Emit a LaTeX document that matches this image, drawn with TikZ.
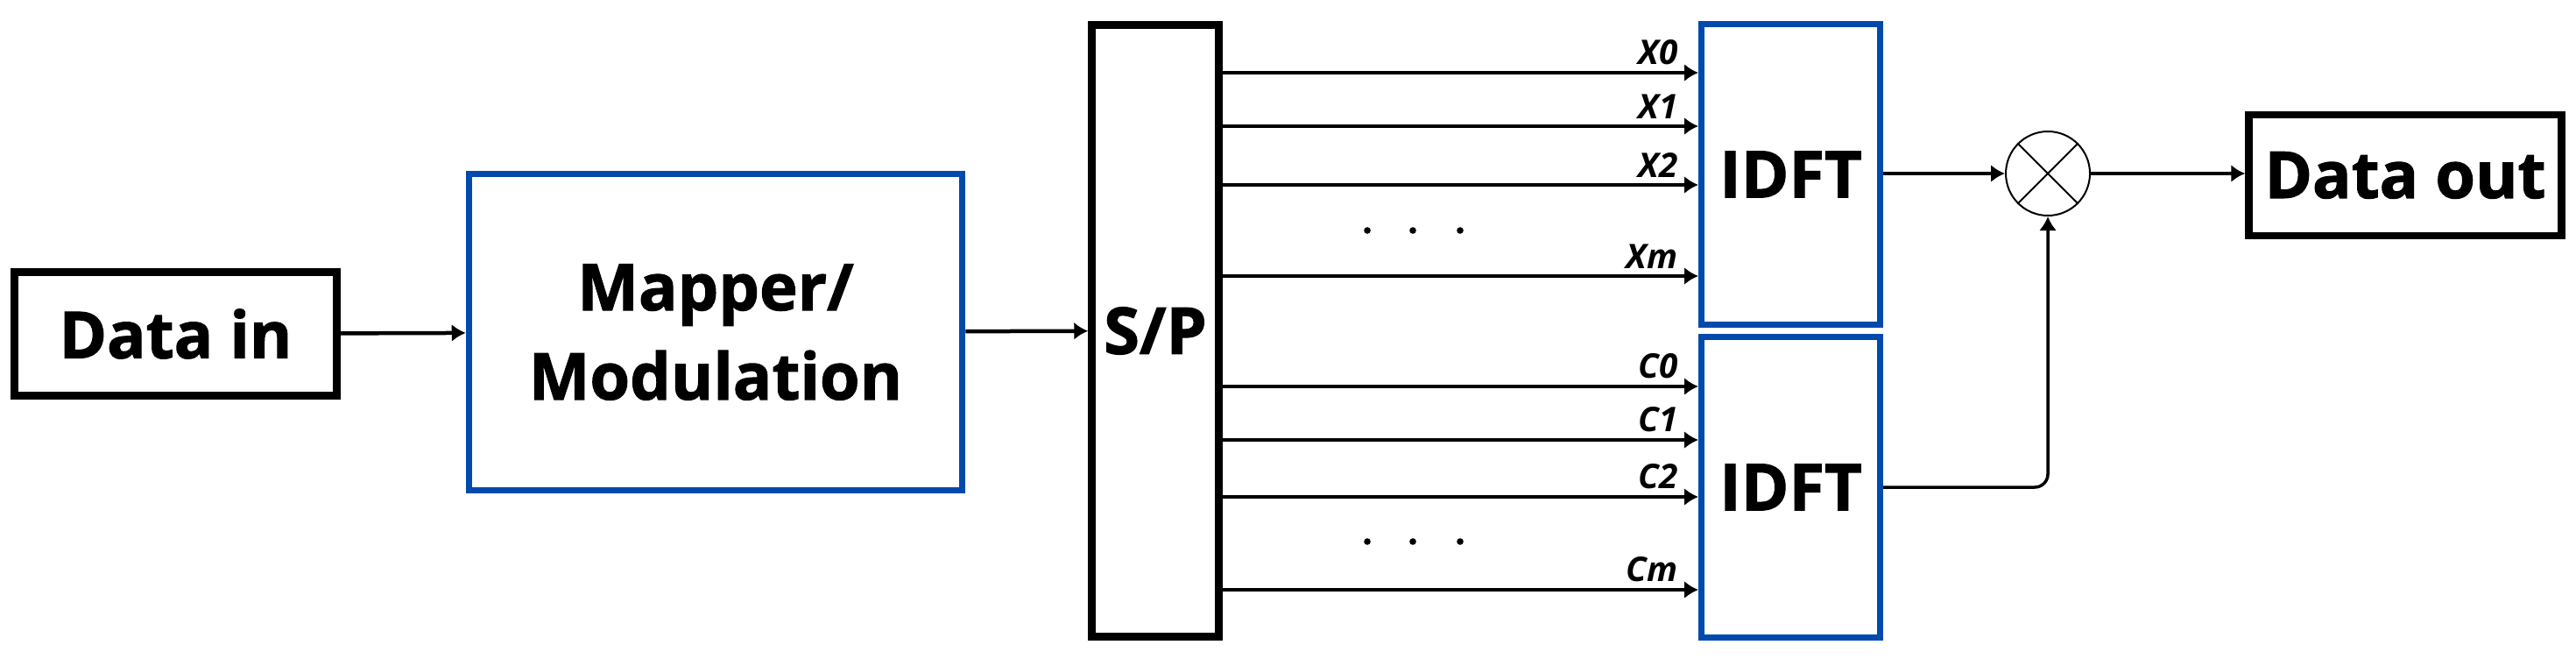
\documentclass[tikz,border=0pt]{standalone}
\usepackage{fontspec}
\setmainfont{Open Sans}[BoldFeatures={FakeBold=1.5}]
\usetikzlibrary{shapes,arrows.meta,positioning,calc}
\definecolor{boxblue}{RGB}{0,74,173}
\newcommand{\bw}{20.4}
\newcommand{\bh}{34.3}
\newcommand{\mnode}[6][kbox]{
  \node [blk,#1,minimum width=#3 mm,minimum height=#4 mm] (#6) at #2 {#5};
}
\newcommand{\mline}[3]{
  \coordinate (p) at (0,#1);
  \draw [sig] (sp.east |- p) -- (#2.west |- p);
  \node [lbl] at ($(#2.west |- p)+(-2.3,-0.8)$) {#3};
}
\newcommand{\mdots}[1]{
  \foreach \dx in {156.1,161.3,166.7}
    \fill (\dx,#1) circle (0.38);
}

\begin{document}
\begin{tikzpicture}[x=1mm,y=-1mm,>={Latex[length=1.6mm,width=2mm]},
    blk/.style={inner sep=0pt,align=center,
      font=\fontsize{21}{29}\selectfont\bfseries},
    kbox/.style={draw=black,line width=0.85mm},
    bbox/.style={draw=boxblue,line width=0.7mm},
    sig/.style={->,line width=0.45mm},
    lbl/.style={anchor=south east,inner sep=0pt,
      font=\fontsize{11}{13}\selectfont\bfseries\itshape}]
  \useasboundingbox (0,0) rectangle (294.1,75.1);

  \mnode{(20.05,38.1)}{36.8}{14.1}{Data in}{din}
  \mnode[bbox]{(81.7,37.9)}{56.35}{36.1}{Mapper/\\Modulation}{map}
  \mnode{(131.9,37.75)}{14.5}{69.8}{S/P}{sp}
  \mnode[bbox]{(204.45,19.9)}{\bw}{\bh}{IDFT}{ia}
  \mnode[bbox]{(204.45,55.6)}{\bw}{\bh}{IDFT}{ib}
  \mnode{(274.6,20.0)}{35.7}{13.8}{Data out}{dout}

  \node [circle,draw,line width=0.2mm,minimum size=9.6mm,inner sep=0pt] (mix) at (233.8,19.8) {};
  \draw [line width=0.2mm] (mix.45) -- (mix.225) (mix.135) -- (mix.-45);

  \draw [sig] (din) -- (map);
  \draw [sig] (map) -- (sp);

  \mline{8.3}{ia}{X0}
  \mline{14.4}{ia}{X1}
  \mline{21.1}{ia}{X2}
  \mline{31.5}{ia}{Xm}
  \mdots{26.3}

  \mline{44.1}{ib}{C0}
  \mline{50.2}{ib}{C1}
  \mline{56.7}{ib}{C2}
  \mline{67.3}{ib}{Cm}
  \mdots{61.8}

  \draw [sig] (ia.east |- mix) -- (mix.west);
  \draw [sig] (mix.east) -- (dout.west |- mix);
  \draw [->,line width=0.35mm,rounded corners=1.5mm] (ib.east) -| (mix.south);
\end{tikzpicture}
\end{document}
